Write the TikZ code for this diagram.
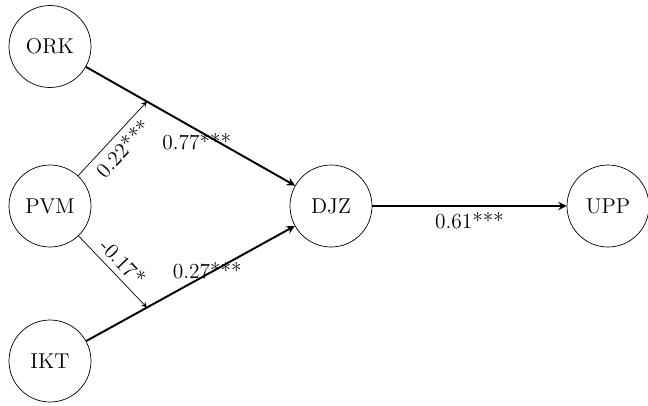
\documentclass[tikz,border=0pt]{standalone}
\usetikzlibrary{calc}
\begin{document}
\begin{tikzpicture}[>=stealth, every node/.style={font=\fontsize{12.2}{14}\selectfont},
  var/.style={draw, circle, minimum size=1.64cm, inner sep=0pt}]
\useasboundingbox (0,0) rectangle (12.96,-8.1);
\node[var] (ORK) at (1.0,-0.93){ORK};
\node[var] (PVM) at (1.0,-4.12){PVM};
\node[var] (IKT) at (1.0,-7.22){IKT};
\node[var] (DJZ) at (6.62,-4.12){DJZ};
\node[var] (UPP) at (12.16,-4.12){UPP};

\coordinate (M1) at ($(ORK)!0.345!(DJZ)$);
\coordinate (M2) at ($(IKT)!0.345!(DJZ)$);

\draw[->, line width=1.1pt](ORK)--node[below, pos=0.53, yshift=2pt]{0.77***}(DJZ);
\draw[->, line width=1.1pt](IKT)--node[pos=0.58, yshift=2pt]{0.27***}(DJZ);
\draw[->, line width=1.1pt](DJZ)--node[below]{0.61***}(UPP);

\draw[->, thin](PVM)--node[sloped, below]{0.22***}(M1);
\draw[->, thin](PVM)--node[sloped, above]{-0.17*}(M2);
\end{tikzpicture}
\end{document}
